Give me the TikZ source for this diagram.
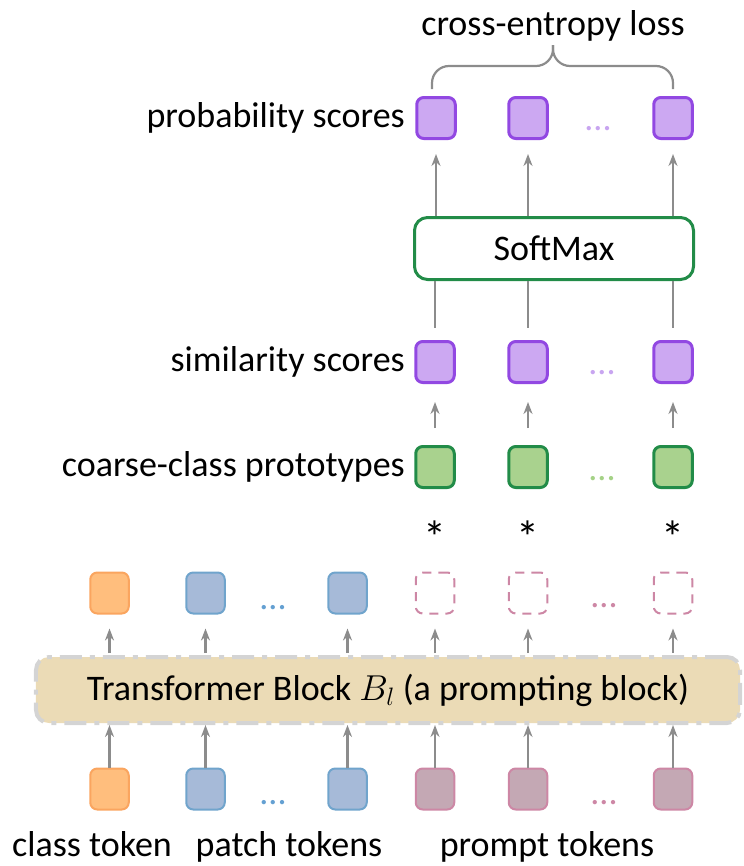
\documentclass[tikz,border=0pt]{standalone}
\usepackage{fix-cm}
\usepackage{fontspec}
\setmainfont{Carlito}
\usetikzlibrary{arrows.meta}

\definecolor{probfill}{RGB}{204,168,242}
\definecolor{probdraw}{RGB}{146,72,226}
\definecolor{probdots}{RGB}{200,165,240}
\definecolor{protofill}{RGB}{169,210,142}
\definecolor{protodraw}{RGB}{34,140,72}
\definecolor{protodots}{RGB}{165,210,135}
\definecolor{clsfill}{RGB}{255,190,125}
\definecolor{clsdraw}{RGB}{250,165,95}
\definecolor{patchfill}{RGB}{166,186,216}
\definecolor{patchdraw}{RGB}{112,164,204}
\definecolor{patchdots}{RGB}{100,160,210}
\definecolor{promptfill}{RGB}{196,168,180}
\definecolor{promptdraw}{RGB}{205,135,165}
\definecolor{blockfill}{RGB}{235,219,182}
\definecolor{blockdraw}{RGB}{212,212,212}
\definecolor{arrgray}{RGB}{140,140,140}

\tikzset{
  tok/.style={rectangle,rounded corners=7bp,minimum width=38.5bp,minimum height=41bp,inner sep=0pt,line width=2bp},
  prob/.style={tok,line width=3bp,draw=probdraw,fill=probfill},
  proto/.style={tok,line width=3bp,draw=protodraw,fill=protofill},
  clstok/.style={tok,draw=clsdraw,fill=clsfill},
  patchtok/.style={tok,draw=patchdraw,fill=patchfill},
  prompttok/.style={tok,draw=promptdraw,fill=promptfill},
  emptytok/.style={tok,draw=promptdraw,dash pattern=on 9bp off 7bp},
  ellip/.style={inner sep=0pt},
  star/.style={anchor=north,inner sep=0pt,font=\fontsize{46bp}{50bp}\selectfont},
  conn/.style={draw=arrgray,line width=2.8bp},
  arr/.style={conn,-{Stealth[length=12bp,width=9bp]}},
  lbl/.style={anchor=base east,inner sep=0pt}
}

\begin{document}
\begin{tikzpicture}[x=1bp,y=-1bp,font=\fontsize{36bp}{42bp}\selectfont]
\useasboundingbox (0,0) rectangle (744,866);

% probability scores
\node[prob] (p1) at (436,118) {};
\node[prob] (p2) at (528,118) {};
\node[prob] (p3) at (673,118) {};
\node[ellip,text=probdots] (pd) at (598,129) {...};
\node[lbl] (plbl) at (405,127) {probability scores};

% loss
\node[anchor=base,inner sep=0pt] (loss) at (553,35) {cross-entropy loss};
\coordinate (bl) at ([xshift=-4bp,yshift=7bp]p1.north);
\coordinate (br) at ([yshift=7bp]p3.north);
\coordinate (btip) at (553,45);
\draw[conn,line width=2.2bp,rounded corners=17bp] (bl) -- ++(0,-23) -| (btip);
\draw[conn,line width=2.2bp,rounded corners=17bp] (br) -- ++(0,-23) -| (btip);

% softmax
\node[draw=protodraw,line width=3bp,rounded corners=13bp,minimum width=279bp,minimum height=62bp,inner sep=0pt] (sm) at (554,248.5) {SoftMax};

% similarity scores
\node[prob] (s1) at (435,362) {};
\node[prob] (s2) at (528,362) {};
\node[prob] (s3) at (673,362) {};
\node[ellip,text=probdots] (sd) at (602,373) {...};
\node[lbl] (slbl) at (405,371) {similarity scores};

% coarse-class prototypes
\node[proto] (c1) at (435,467) {};
\node[proto] (c2) at (528,467) {};
\node[proto] (c3) at (673,467) {};
\node[ellip,text=protodots] (cd) at (602,479) {...};
\node[lbl] (clbl) at (405,476) {coarse-class prototypes};

\node[star] (st1) at (435,521) {*};
\node[star] (st2) at (528,521) {*};
\node[star] (st3) at (673,521) {*};

% outputs of the block
\node[clstok] (t1) at (109.5,593) {};
\node[patchtok] (t2) at (205.5,593) {};
\node[patchtok] (t3) at (347.5,593) {};
\node[emptytok] (t4) at (435,593) {};
\node[emptytok] (t5) at (528,593) {};
\node[emptytok] (t6) at (673,593) {};
\node[ellip,text=patchdots] (td1) at (273,608) {...};
\node[ellip,text=promptdraw] (td2) at (604,606) {...};

% transformer block
\node[fill=blockfill,draw=blockdraw,line width=4bp,dash pattern=on 22bp off 8bp on 5bp off 8bp,rounded corners=13bp,minimum width=704bp,minimum height=66bp,inner sep=0pt] (tb) at (388,690) {Transformer Block $B_l$ (a prompting block)};

% input tokens
\node[clstok] (b1) at (109.5,789) {};
\node[patchtok] (b2) at (205.5,789) {};
\node[patchtok] (b3) at (347.5,789) {};
\node[prompttok] (b4) at (435,789) {};
\node[prompttok] (b5) at (528,789) {};
\node[prompttok] (b6) at (673,789) {};
\node[ellip,text=patchdots] (bd1) at (273,803) {...};
\node[ellip,text=promptdraw] (bd2) at (604,803) {...};

\node[anchor=base,inner sep=0pt] (cls) at (92,856) {class token};
\node[anchor=base,inner sep=0pt] (pat) at (289,856) {patch tokens};
\node[anchor=base,inner sep=0pt] (pro) at (547,856) {prompt tokens};

% connectors
\foreach \i in {1,2,3} {
  \draw[arr,shorten >=14bp] (sm.north -| p\i) -- (p\i.south);
  \draw[conn,shorten >=12bp] (sm.south -| s\i) -- (s\i.north);
  \draw[arr,shorten <=17bp,shorten >=18bp] (c\i.north) -- (s\i.south);
}
\foreach \i in {1,...,6} {
  \draw[arr,shorten <=2bp,shorten >=14bp] (tb.north -| t\i) -- (t\i.south);
  \draw[arr] (b\i.north) -- (tb.south -| b\i);
}
\end{tikzpicture}
\end{document}
